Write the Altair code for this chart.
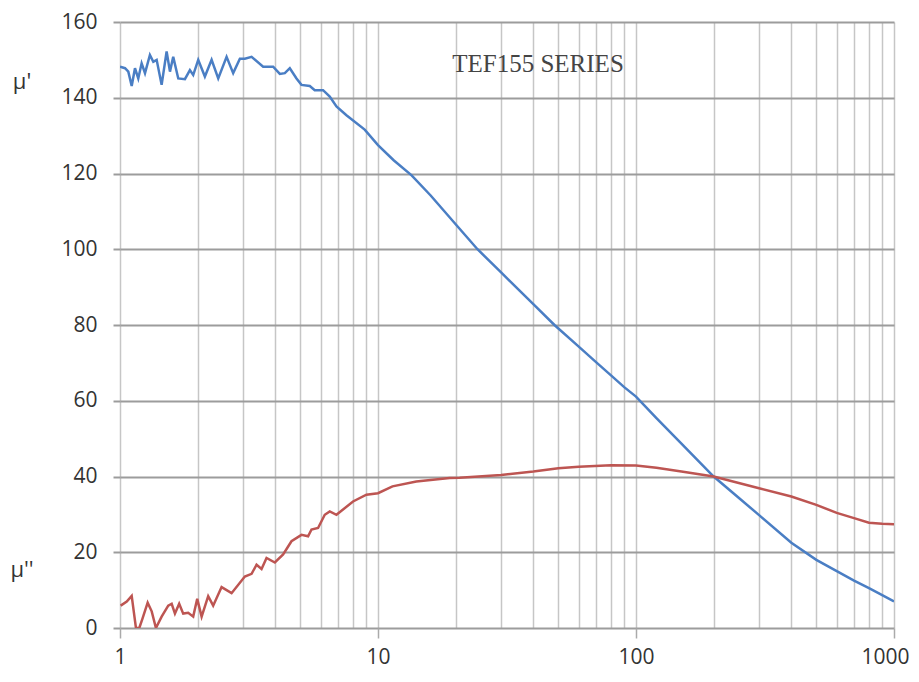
import altair as alt
import pandas as pd

# mu' (blue) readings
mu1_freq = [1.000, 1.046, 1.077, 1.110, 1.143, 1.177, 1.213, 1.250, 1.306, 1.346, 1.387, 1.450,
            1.516, 1.562, 1.608, 1.682, 1.785, 1.866, 1.922, 2.010, 2.133, 2.265, 2.403, 2.589,
            2.746, 2.915, 3.047, 3.236, 3.587, 3.923, 4.164, 4.354, 4.552, 4.832, 5.051, 5.440,
            5.686, 6.125, 6.501, 6.902, 7.545, 8.88, 10, 11.5, 13.5, 16, 20, 24.3, 30, 40, 48.3,
            60, 70, 80, 90, 100, 120, 150, 200, 250, 300, 400, 500, 600, 700, 800, 900, 1000]
mu1_val = [148.2, 147.8, 146.9, 143.1, 147.8, 145.1, 149.1, 146.5, 151.3, 149.5, 150.0, 143.4,
           152.2, 146.9, 150.8, 145.1, 144.9, 147.3, 146.0, 150.0, 145.6, 150.0, 145.1, 150.8,
           146.5, 150.3, 150.3, 150.8, 148.2, 148.2, 146.3, 146.5, 147.8, 145.1, 143.4, 143.1,
           142.0, 142.0, 140.3, 137.7, 135.4, 131.6, 127.5, 123.5, 119.5, 114.2, 106.6, 100.0,
           93.9, 85.5, 80.0, 74.3, 70.2, 66.7, 63.6, 61.1, 55.4, 48.7, 40.0, 34.4, 29.8, 22.5,
           18.0, 15.0, 12.5, 10.5, 8.7, 7.0]

# mu'' (red) readings
mu2_freq = [1.006, 1.062, 1.110, 1.153, 1.188, 1.224, 1.280, 1.327, 1.378, 1.450, 1.538, 1.586,
            1.633, 1.696, 1.758, 1.838, 1.922, 1.992, 2.072, 2.197, 2.297, 2.476, 2.707, 3.047,
            3.236, 3.383, 3.537, 3.698, 3.983, 4.288, 4.620, 5.051, 5.358, 5.524, 5.857, 6.218,
            6.501, 6.902, 8.003, 9.018, 10, 11.38, 14.08, 18.95, 20.7, 30, 40, 50, 60, 80, 100,
            120, 150, 200, 300, 400, 500, 600, 700, 800, 900, 1000]
mu2_val = [5.9, 7.0, 8.5, 0.0, 0.0, 2.6, 6.7, 4.4, 0.0, 3.0, 5.9, 6.4,
           3.8, 6.4, 3.8, 4.0, 3.0, 7.7, 3.0, 8.4, 5.9, 10.8, 9.2, 13.6,
           14.3, 16.7, 15.6, 18.5, 17.3, 19.4, 22.9, 24.6, 24.2, 26.0, 26.4, 29.9,
           30.8, 29.9, 33.4, 35.2, 35.6, 37.4, 38.7, 39.6, 39.7, 40.4, 41.3, 42.2, 42.6, 43.0, 42.9,
           42.3, 41.3, 40.0, 36.9, 34.7, 32.5, 30.4, 29.0, 27.8, 27.5, 27.4]

series_names = ["mu1", "mu2"]
series_colors = ["#4a7ec4", "#bd5552"]
x_grid_values = [1, 2, 3, 4, 5, 6, 7, 8, 9, 10, 20, 30, 40, 50, 60, 70, 80, 90,
                 100, 200, 300, 400, 500, 600, 700, 800, 900, 1000]
y_tick_values = [0, 20, 40, 60, 80, 100, 120, 140, 160]
title_text = ["TEF155 SERIES"]
label_mu1 = ["\u03bc'"]
label_mu2 = ["\u03bc''"]

df = pd.concat([
    pd.DataFrame({"f": mu1_freq, "v": mu1_val, "series": series_names[0]}),
    pd.DataFrame({"f": mu2_freq, "v": mu2_val, "series": series_names[1]}),
])

decade_test = "datum.value == 1 || datum.value == 10 || datum.value == 100 || datum.value == 1000"

x_axis = alt.Axis(
    values=x_grid_values, title=None, domain=False,
    grid=True, gridColor="#c6c6c6", gridWidth=1.5,
    ticks=True, tickSize=10, tickColor="#aaaaaa", tickWidth=1.5,
    tickOpacity={"condition": {"test": decade_test, "value": 1}, "value": 0},
    labelExpr="(" + decade_test + ") ? format(datum.value, 'd') : ''",
    labelOverlap=False, labelFlush=False, labelPadding=8,
    labelAlign={"condition": {"test": "datum.value == 1000", "value": "right"}, "value": "center"},
    labelOffset={"condition": {"test": "datum.value == 1000", "value": 15}, "value": 0},
    labelFont="Open Sans", labelFontSize=21, labelColor="#333333",
)
y_axis = alt.Axis(
    values=y_tick_values, title=None, domain=False,
    grid=True, gridColor="#9c9c9c", gridWidth=2,
    ticks=True, tickSize=7, tickColor="#9c9c9c", tickWidth=2,
    labelPadding=16, labelFont="Open Sans", labelFontSize=21, labelColor="#333333",
)

lines = alt.Chart(df).mark_line(strokeWidth=2.5, clip=True).encode(
    x=alt.X("f:Q", scale=alt.Scale(type="log", domain=[1, 1000], nice=False), axis=x_axis),
    y=alt.Y("v:Q", scale=alt.Scale(domain=[0, 160], nice=False), axis=y_axis),
    color=alt.Color("series:N", scale=alt.Scale(domain=series_names, range=series_colors), legend=None),
    order=alt.Order("f:Q"),
)

title = alt.Chart(pd.DataFrame({"t": title_text})).mark_text(
    font="Liberation Serif", fontSize=25, color="#444444", align="center", baseline="alphabetic"
).encode(x=alt.value(418), y=alt.value(50), text="t:N")

m1 = alt.Chart(pd.DataFrame({"t": label_mu1})).mark_text(
    font="Open Sans", fontSize=22, color="#333333", align="center", baseline="middle"
).encode(x=alt.value(-98), y=alt.value(60), text="t:N")

m2 = alt.Chart(pd.DataFrame({"t": label_mu2})).mark_text(
    font="Open Sans", fontSize=22, color="#333333", align="center", baseline="middle"
).encode(x=alt.value(-98), y=alt.value(548), text="t:N")

chart = alt.layer(lines, title, m1, m2).properties(
    width=774, height=606,
    autosize=alt.AutoSizeParams(type="none"),
    padding={"left": 112, "top": 14, "right": 17, "bottom": 46},
    background="white",
).configure_view(stroke=None)

chart.save("out.html", embed_options={"renderer": "svg", "actions": False})
